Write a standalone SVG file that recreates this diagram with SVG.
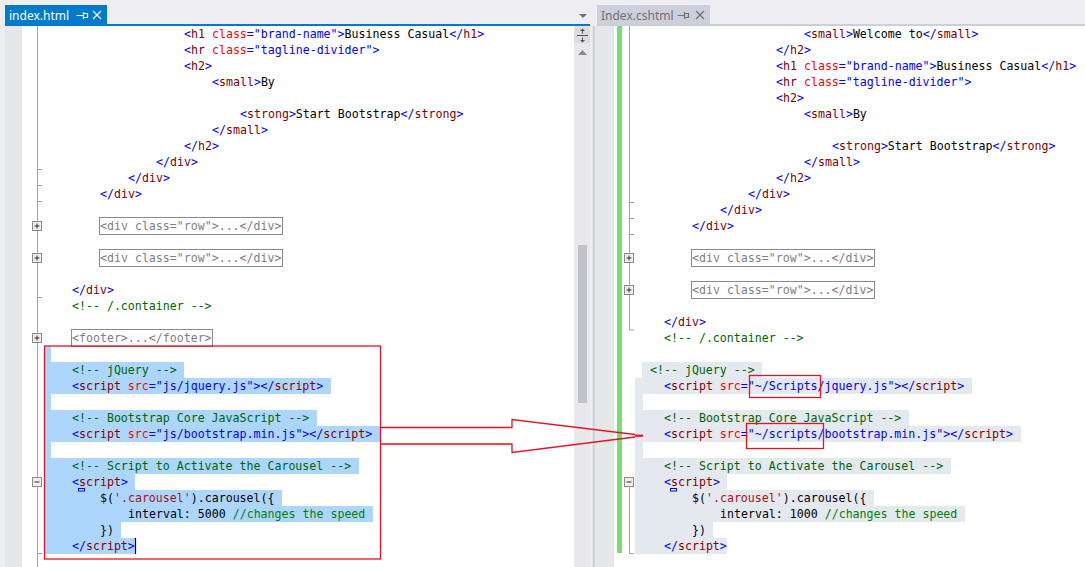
<svg xmlns="http://www.w3.org/2000/svg" width="1085" height="567" viewBox="0 0 1085 567">
<style>
.code{font-family:"DejaVu Sans Mono","Liberation Mono",monospace;font-size:11.6px;fill:#000;white-space:pre}
.t{fill:#0000ff}.e{fill:#800000}.a{fill:#ff0000}.c{fill:#006400}.s{fill:#a31515}.g{fill:#808080}.jc{fill:#008000}
.tab{font-family:"Noto Sans","Open Sans",sans-serif;font-size:12px}
.selL{fill:#add6ff}.selR{fill:#e4e8ef}
.box{fill:none;stroke:#8a8a8a;stroke-width:1}
.ol{stroke:#a5a5a5;stroke-width:1;fill:none}
.pm{fill:#eeeeee;stroke:#8c8c8c;stroke-width:1}
.pmx{stroke:#333;stroke-width:1}
.red{fill:none;stroke:#e81123;stroke-width:1.3}
</style>
<rect x="0" y="0" width="1085" height="567" fill="#eeeef2"/>

<g id="left-pane">
  <rect x="5" y="5" width="102" height="20" fill="#007acc"/>
  <text x="9" y="19.5" class="tab" fill="#ffffff">index.html</text>
  <g stroke="#ffffff" stroke-width="1.2" fill="none">
    <path d="M76.5 15.5H83M83.5 12V19M83.5 13.5H87.5V17.5H83.5"/>
    <path d="M93 11L101 19M101 11L93 19"/>
  </g>
  <path d="M579 14H587L583 18Z" fill="#717171"/>
  <rect x="5" y="24" width="585" height="2" fill="#007acc"/>
  <rect x="5" y="26" width="17" height="541" fill="#e6e7e8"/>
  <rect x="22" y="26" width="552" height="541" fill="#ffffff"/>
  <rect x="574" y="26" width="16" height="541" fill="#e8e8ec"/>
  <rect x="574" y="27" width="16" height="16" fill="#dcdce2"/>
  <g stroke="#555" stroke-width="1" fill="none"><path d="M577 35.5H588M582.5 29V33.5M582.5 37.5V42"/></g>
  <path d="M580 31H585L582.5 28.5Z M580 40H585L582.5 42.5Z" fill="#555"/>
  <path d="M578 55H587L582.5 50Z" fill="#868999"/>
  <rect x="578" y="245" width="9" height="158" fill="#c2c3c9"/>

  <!-- selection -->
  <rect class="selL" x="44" y="346" width="7" height="16"/>
  <rect class="selL" x="44" y="362" width="140" height="16"/>
  <rect class="selL" x="44" y="378" width="287" height="16"/>
  <rect class="selL" x="44" y="394" width="7" height="16"/>
  <rect class="selL" x="44" y="410" width="273" height="16"/>
  <rect class="selL" x="44" y="426" width="336" height="16"/>
  <rect class="selL" x="44" y="442" width="7" height="16"/>
  <rect class="selL" x="44" y="458" width="315" height="16"/>
  <rect class="selL" x="44" y="474" width="91" height="16"/>
  <rect class="selL" x="44" y="490" width="238" height="16"/>
  <rect class="selL" x="44" y="506" width="329" height="16"/>
  <rect class="selL" x="44" y="522" width="77" height="16"/>
  <rect class="selL" x="44" y="538" width="91" height="16"/>

  <!-- outlining -->
  <path class="ol" d="M37.5 26V567M37.5 169.5H42M37.5 185.5H42M37.5 201.5H42M37.5 297.5H42M37.5 553.5H42"/>
  <rect class="pm" x="32.5" y="221.5" width="9" height="9"/><path class="pmx" d="M34.5 226H39.5M37 223.5V228.5"/>
  <rect class="pm" x="32.5" y="253.5" width="9" height="9"/><path class="pmx" d="M34.5 258H39.5M37 255.5V260.5"/>
  <rect class="pm" x="32.5" y="333.5" width="9" height="9"/><path class="pmx" d="M34.5 338H39.5M37 335.5V340.5"/>
  <rect class="pm" x="32.5" y="477.5" width="9" height="9"/><path class="pmx" d="M34.5 482H39.5"/>

  <rect class="box" x="99.5" y="217.5" width="183" height="17"/>
  <rect class="box" x="99.5" y="249.5" width="183" height="17"/>
  <rect class="box" x="71.5" y="329.5" width="141" height="17"/>

  <g class="code" xml:space="preserve">
    <text x="184" y="38"><tspan class="t">&lt;</tspan><tspan class="e">h1</tspan> <tspan class="a">class</tspan><tspan class="t">="brand-name"&gt;</tspan>Business Casual<tspan class="t">&lt;/</tspan><tspan class="e">h1</tspan><tspan class="t">&gt;</tspan></text>
    <text x="184" y="54"><tspan class="t">&lt;</tspan><tspan class="e">hr</tspan> <tspan class="a">class</tspan><tspan class="t">="tagline-divider"&gt;</tspan></text>
    <text x="184" y="70"><tspan class="t">&lt;</tspan><tspan class="e">h2</tspan><tspan class="t">&gt;</tspan></text>
    <text x="212" y="86"><tspan class="t">&lt;</tspan><tspan class="e">small</tspan><tspan class="t">&gt;</tspan>By</text>
    <text x="240" y="118"><tspan class="t">&lt;</tspan><tspan class="e">strong</tspan><tspan class="t">&gt;</tspan>Start Bootstrap<tspan class="t">&lt;/</tspan><tspan class="e">strong</tspan><tspan class="t">&gt;</tspan></text>
    <text x="212" y="134"><tspan class="t">&lt;/</tspan><tspan class="e">small</tspan><tspan class="t">&gt;</tspan></text>
    <text x="184" y="150"><tspan class="t">&lt;/</tspan><tspan class="e">h2</tspan><tspan class="t">&gt;</tspan></text>
    <text x="156" y="166"><tspan class="t">&lt;/</tspan><tspan class="e">div</tspan><tspan class="t">&gt;</tspan></text>
    <text x="128" y="182"><tspan class="t">&lt;/</tspan><tspan class="e">div</tspan><tspan class="t">&gt;</tspan></text>
    <text x="100" y="198"><tspan class="t">&lt;/</tspan><tspan class="e">div</tspan><tspan class="t">&gt;</tspan></text>
    <text x="100" y="230" class="g">&lt;div class="row"&gt;...&lt;/div&gt;</text>
    <text x="100" y="262" class="g">&lt;div class="row"&gt;...&lt;/div&gt;</text>
    <text x="72" y="294"><tspan class="t">&lt;/</tspan><tspan class="e">div</tspan><tspan class="t">&gt;</tspan></text>
    <text x="72" y="310" class="c">&lt;!-- /.container --&gt;</text>
    <text x="72" y="342" class="g">&lt;footer&gt;...&lt;/footer&gt;</text>
    <text x="72" y="374" class="c">&lt;!-- jQuery --&gt;</text>
    <text x="72" y="390"><tspan class="t">&lt;</tspan><tspan class="e">script</tspan> <tspan class="a">src</tspan><tspan class="t">="js/jquery.js"&gt;&lt;/</tspan><tspan class="e">script</tspan><tspan class="t">&gt;</tspan></text>
    <text x="72" y="422" class="c">&lt;!-- Bootstrap Core JavaScript --&gt;</text>
    <text x="72" y="438"><tspan class="t">&lt;</tspan><tspan class="e">script</tspan> <tspan class="a">src</tspan><tspan class="t">="js/bootstrap.min.js"&gt;&lt;/</tspan><tspan class="e">script</tspan><tspan class="t">&gt;</tspan></text>
    <text x="72" y="470" class="c">&lt;!-- Script to Activate the Carousel --&gt;</text>
    <text x="72" y="486"><tspan class="t">&lt;</tspan><tspan class="e">script</tspan><tspan class="t">&gt;</tspan></text>
    <text x="100" y="502">$(<tspan class="s">'.carousel'</tspan>).carousel({</text>
    <text x="128" y="518">interval: 5000 <tspan class="jc">//changes the speed</tspan></text>
    <text x="100" y="534">})</text>
    <text x="72" y="550"><tspan class="t">&lt;/</tspan><tspan class="e">script</tspan><tspan class="t">&gt;</tspan></text>
  </g>
  <rect x="78.5" y="488.5" width="6" height="2.5" fill="none" stroke="#0000ff" stroke-width="1"/>
  <path d="M135.5 538V554" stroke="#000" stroke-width="1.2"/>
  <rect class="red" x="44.5" y="346" width="336" height="213"/>
</g>

<g id="right-pane">
  <rect x="592.5" y="26" width="2.5" height="541" fill="#d3d3de"/>
  <rect x="597" y="5" width="113" height="20" fill="#cdd0da"/>
  <text x="601" y="19.5" class="tab" fill="#717171">Index.cshtml</text>
  <g stroke="#717171" stroke-width="1.2" fill="none">
    <path d="M677.5 15.5H684M684.5 12V19M684.5 13.5H688.5V17.5H684.5"/>
    <path d="M696 11L704 19M704 11L696 19"/>
  </g>
  <rect x="597" y="24" width="488" height="2" fill="#ccced8"/>
  <rect x="595" y="26" width="19" height="541" fill="#e6e7e8"/>
  <rect x="614" y="26" width="471" height="541" fill="#ffffff"/>
  <rect x="617" y="26" width="5" height="527" fill="#76df6e"/>

  <rect class="selR" x="642" y="362" width="120" height="16"/>
  <rect class="selR" x="635" y="378" width="337" height="16"/>
  <rect class="selR" x="635" y="394" width="8" height="16"/>
  <rect class="selR" x="635" y="410" width="274" height="16"/>
  <rect class="selR" x="635" y="426" width="386" height="16"/>
  <rect class="selR" x="635" y="442" width="8" height="16"/>
  <rect class="selR" x="635" y="458" width="316" height="16"/>
  <rect class="selR" x="635" y="474" width="92" height="16"/>
  <rect class="selR" x="635" y="490" width="239" height="16"/>
  <rect class="selR" x="635" y="506" width="330" height="16"/>
  <rect class="selR" x="635" y="522" width="78" height="16"/>
  <rect class="selR" x="635" y="538" width="92" height="16"/>

  <path class="ol" d="M629.5 26V330M629.5 202.5H634M629.5 218.5H634M629.5 234.5H634M629.5 330H634M629.5 487V553.5H634"/>
  <rect class="pm" x="624.5" y="253.5" width="9" height="9"/><path class="pmx" d="M626.5 258H631.5M629 255.5V260.5"/>
  <rect class="pm" x="624.5" y="285.5" width="9" height="9"/><path class="pmx" d="M626.5 290H631.5M629 287.5V292.5"/>
  <rect class="pm" x="624.5" y="477.5" width="9" height="9"/><path class="pmx" d="M626.5 482H631.5"/>

  <rect class="box" x="691.5" y="249.5" width="183" height="17"/>
  <rect class="box" x="691.5" y="281.5" width="183" height="17"/>

  <g class="code" xml:space="preserve">
    <text x="804" y="38"><tspan class="t">&lt;</tspan><tspan class="e">small</tspan><tspan class="t">&gt;</tspan>Welcome to<tspan class="t">&lt;/</tspan><tspan class="e">small</tspan><tspan class="t">&gt;</tspan></text>
    <text x="776" y="54"><tspan class="t">&lt;/</tspan><tspan class="e">h2</tspan><tspan class="t">&gt;</tspan></text>
    <text x="776" y="70"><tspan class="t">&lt;</tspan><tspan class="e">h1</tspan> <tspan class="a">class</tspan><tspan class="t">="brand-name"&gt;</tspan>Business Casual<tspan class="t">&lt;/</tspan><tspan class="e">h1</tspan><tspan class="t">&gt;</tspan></text>
    <text x="776" y="86"><tspan class="t">&lt;</tspan><tspan class="e">hr</tspan> <tspan class="a">class</tspan><tspan class="t">="tagline-divider"&gt;</tspan></text>
    <text x="776" y="102"><tspan class="t">&lt;</tspan><tspan class="e">h2</tspan><tspan class="t">&gt;</tspan></text>
    <text x="804" y="118"><tspan class="t">&lt;</tspan><tspan class="e">small</tspan><tspan class="t">&gt;</tspan>By</text>
    <text x="832" y="150"><tspan class="t">&lt;</tspan><tspan class="e">strong</tspan><tspan class="t">&gt;</tspan>Start Bootstrap<tspan class="t">&lt;/</tspan><tspan class="e">strong</tspan><tspan class="t">&gt;</tspan></text>
    <text x="804" y="166"><tspan class="t">&lt;/</tspan><tspan class="e">small</tspan><tspan class="t">&gt;</tspan></text>
    <text x="776" y="182"><tspan class="t">&lt;/</tspan><tspan class="e">h2</tspan><tspan class="t">&gt;</tspan></text>
    <text x="748" y="198"><tspan class="t">&lt;/</tspan><tspan class="e">div</tspan><tspan class="t">&gt;</tspan></text>
    <text x="720" y="214"><tspan class="t">&lt;/</tspan><tspan class="e">div</tspan><tspan class="t">&gt;</tspan></text>
    <text x="692" y="230"><tspan class="t">&lt;/</tspan><tspan class="e">div</tspan><tspan class="t">&gt;</tspan></text>
    <text x="692" y="262" class="g">&lt;div class="row"&gt;...&lt;/div&gt;</text>
    <text x="692" y="294" class="g">&lt;div class="row"&gt;...&lt;/div&gt;</text>
    <text x="664" y="326"><tspan class="t">&lt;/</tspan><tspan class="e">div</tspan><tspan class="t">&gt;</tspan></text>
    <text x="664" y="342" class="c">&lt;!-- /.container --&gt;</text>
    <text x="650" y="374" class="c">&lt;!-- jQuery --&gt;</text>
    <text x="664" y="390"><tspan class="t">&lt;</tspan><tspan class="e">script</tspan> <tspan class="a">src</tspan><tspan class="t">="~/Scripts/jquery.js"&gt;&lt;/</tspan><tspan class="e">script</tspan><tspan class="t">&gt;</tspan></text>
    <text x="664" y="422" class="c">&lt;!-- Bootstrap Core JavaScript --&gt;</text>
    <text x="664" y="438"><tspan class="t">&lt;</tspan><tspan class="e">script</tspan> <tspan class="a">src</tspan><tspan class="t">="~/scripts/bootstrap.min.js"&gt;&lt;/</tspan><tspan class="e">script</tspan><tspan class="t">&gt;</tspan></text>
    <text x="664" y="470" class="c">&lt;!-- Script to Activate the Carousel --&gt;</text>
    <text x="664" y="486"><tspan class="t">&lt;</tspan><tspan class="e">script</tspan><tspan class="t">&gt;</tspan></text>
    <text x="692" y="502">$(<tspan class="s">'.carousel'</tspan>).carousel({</text>
    <text x="720" y="518">interval: 1000 <tspan class="jc">//changes the speed</tspan></text>
    <text x="692" y="534">})</text>
    <text x="664" y="550"><tspan class="t">&lt;/</tspan><tspan class="e">script</tspan><tspan class="t">&gt;</tspan></text>
  </g>
  <rect x="670.5" y="488.5" width="6" height="2.5" fill="none" stroke="#0000ff" stroke-width="1"/>
  <rect class="red" x="749.5" y="375.5" width="71" height="22"/>
  <rect class="red" x="746.5" y="423.5" width="77" height="25"/>
</g>

<g id="connectors">
  <path class="red" d="M381 427.5H512V419.5L635 434.5M635 437L512 452.5V444H381"/>
  <path d="M635 435.7H643" stroke="#e81123" stroke-width="2.2"/>
</g>
</svg>
